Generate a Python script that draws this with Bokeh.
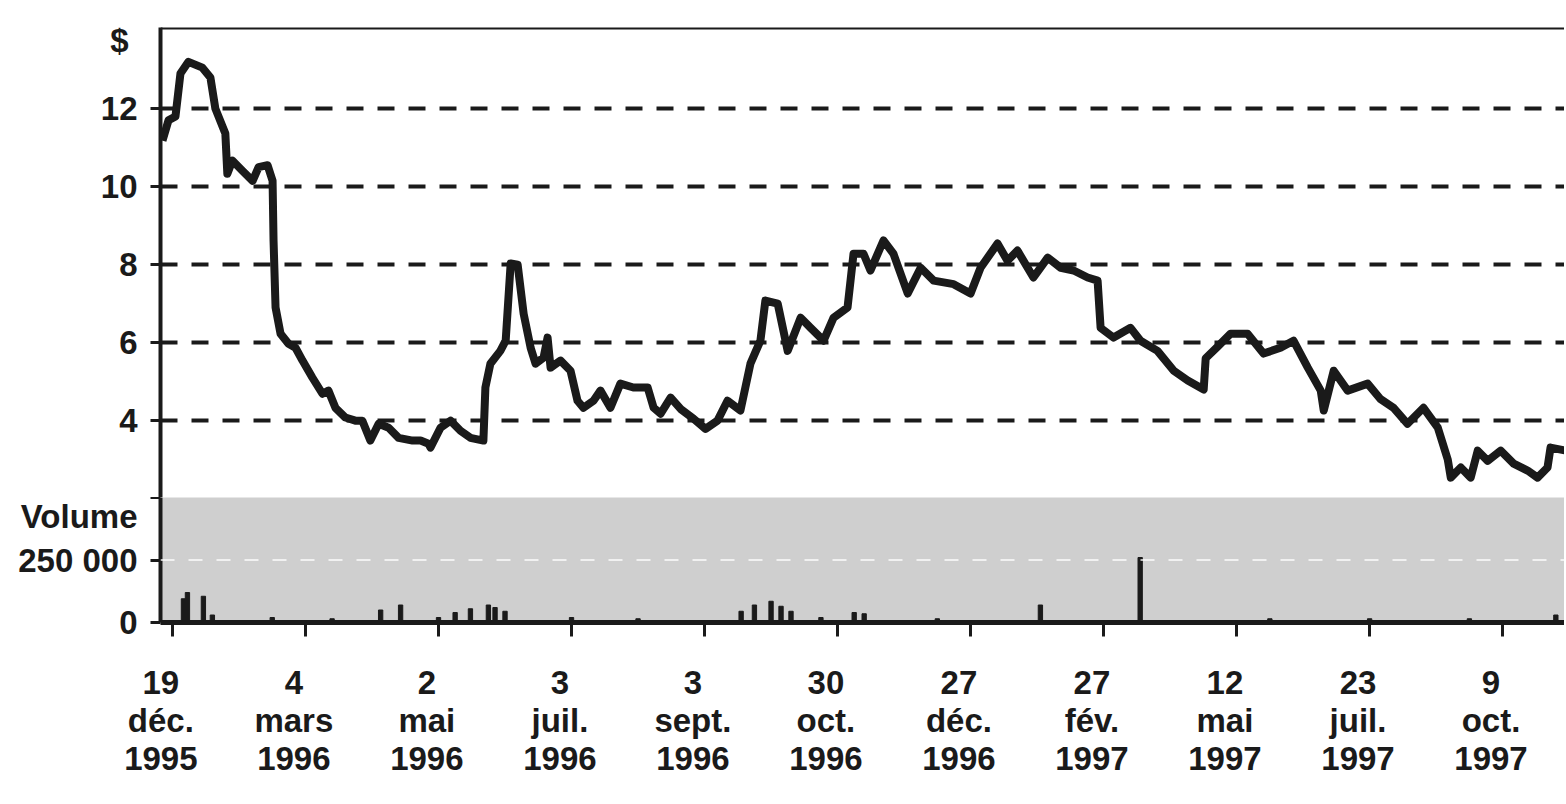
from bokeh.plotting import figure
from bokeh.layouts import column
from bokeh.models import Range1d, FixedTicker, Span, LinearAxis
from bokeh.embed import file_html
from bokeh.resources import INLINE

# ---- data (trading-session index, price in $) ----
session = [-3.0, -1.2, 0.9, 2.4, 4.8, 9.0, 11.4, 12.9, 15.9, 16.5, 18.0, 21.1, 24.1, 25.9,
           28.6, 30.1, 30.4, 31.0, 32.5, 34.9, 37.0, 39.1, 42.1, 45.1, 46.9, 49.0, 52.0,
           55.0, 57.1, 59.5, 62.0, 65.0, 68.0, 72.2, 74.6, 77.0, 77.6, 80.6, 83.6, 86.6,
           89.6, 93.5, 94.1, 95.6, 98.6, 100.2, 101.7, 103.8, 105.6, 107.7, 109.2, 111.6,
           112.8, 113.7, 116.7, 119.7, 121.8, 123.6, 126.6, 128.7, 131.7, 134.7, 138.6,
           142.9, 144.7, 146.8, 149.8, 152.8, 156.7, 160.3, 163.9, 166.9, 170.8, 173.8,
           176.8, 178.3, 182.0, 185.0, 188.9, 191.9, 195.8, 198.8, 203.0, 204.8, 207.8,
           209.9, 213.8, 216.8, 221.1, 225.0, 228.9, 234.9, 240.0, 243.0, 248.1, 251.1,
           254.1, 258.9, 263.2, 267.1, 271.0, 275.2, 278.2, 279.1, 283.0, 288.1, 291.1,
           296.2, 301.1, 305.3, 310.1, 310.7, 314.3, 318.2, 323.3, 328.1, 333.2, 337.1,
           341.4, 345.3, 346.2, 349.2, 353.4, 359.4, 363.3, 367.2, 371.4, 376.2, 380.5,
           383.5, 384.4, 387.4, 390.4, 392.5, 395.5, 399.4, 403.3, 407.5, 410.5, 413.5,
           414.4, 419.2]
price = [11.18, 11.7, 11.8, 12.9, 13.2, 13.05, 12.8, 12.0, 11.36, 10.33, 10.67, 10.4, 10.15, 10.5,
         10.55, 10.15, 8.6, 6.9, 6.23, 5.97, 5.87, 5.54, 5.1, 4.69, 4.77, 4.33, 4.08,
         4.0, 4.0, 3.49, 3.92, 3.82, 3.56, 3.49, 3.49, 3.41, 3.31, 3.82, 4.0, 3.74,
         3.56, 3.49, 4.85, 5.46, 5.79, 6.05, 8.03, 8.0, 6.74, 5.87, 5.46, 5.62,
         6.13, 5.36, 5.54, 5.28, 4.51, 4.33, 4.51, 4.77, 4.33, 4.95, 4.85,
         4.85, 4.33, 4.18, 4.59, 4.3, 4.05, 3.79, 4.0, 4.51, 4.26, 5.46,
         6.05, 7.08, 7.0, 5.79, 6.64, 6.38, 6.05, 6.64, 6.9, 8.28, 8.28,
         7.85, 8.62, 8.28, 7.26, 7.92, 7.59, 7.5, 7.26, 7.92, 8.54, 8.1,
         8.36, 7.67, 8.18, 7.92, 7.85, 7.67, 7.59, 6.38, 6.13, 6.38, 6.05,
         5.79, 5.28, 5.03, 4.8, 5.6, 5.9, 6.23, 6.23, 5.72, 5.87, 6.05,
         5.36, 4.77, 4.26, 5.28, 4.77, 4.95, 4.55, 4.33, 3.92, 4.33, 3.82,
         3.0, 2.54, 2.8, 2.54, 3.23, 2.97, 3.23, 2.9, 2.72, 2.54, 2.8,
         3.31, 3.23]

vol_session = [3.3, 4.5, 9.3, 12, 30, 48, 62.6, 68.6, 80, 85, 89.6, 95, 97, 100, 120, 140,
               171, 175, 180, 183, 186, 195, 205, 208, 230, 261, 291, 330, 360, 390, 416]
volume = [95000, 120000, 105000, 30000, 20000, 15000, 50000, 70000, 20000, 40000, 55000,
          70000, 60000, 45000, 20000, 15000, 45000, 70000, 85000, 65000, 45000, 20000,
          40000, 35000, 15000, 70000, 260000, 15000, 15000, 15000, 30000]

tick_sessions = [0, 40, 80, 120, 160, 200, 240, 280, 320, 360, 400]
tick_labels = ["19\ndéc.\n1995", "4\nmars\n1996", "2\nmai\n1996", "3\njuil.\n1996",
               "3\nsept.\n1996", "30\noct.\n1996", "27\ndéc.\n1996", "27\nfév.\n1997",
               "12\nmai\n1997", "23\njuil.\n1997", "9\noct.\n1997"]
price_ticks = [4, 6, 8, 10, 12]
unit_tick = [13.75]
unit_label = ["$"]
vol_ticks = [0, 250000, 500000]
vol_tick_labels = ["0", "250 000", "Volume"]

FONT = "Liberation Sans"
FSIZE = "33px"
INK = "#1a1a1a"
W = 1564
LEFT = 160
X0, X1 = -3.6, 418.6
LABEL_SHIFT = -3.5   # date-label blocks sit a little left of their tick (session units)

xr = Range1d(X0, X1)


def style_axis(ax):
    ax.axis_line_width = 4
    ax.axis_line_color = INK
    ax.major_tick_line_width = 3
    ax.major_tick_line_color = INK
    ax.major_tick_out = 10
    ax.major_tick_in = 0
    ax.minor_tick_line_color = None
    ax.major_label_standoff = 13
    ax.major_label_text_font = FONT
    ax.major_label_text_font_style = "bold"
    ax.major_label_text_font_size = FSIZE
    ax.major_label_text_color = INK


# ---- price panel ----
p = figure(width=W, height=497, x_range=xr, y_range=Range1d(2.03, 14.08),
           output_backend="svg", toolbar_location=None, x_axis_location=None,
           min_border_left=LEFT, min_border_right=0, min_border_top=27, min_border_bottom=0)
p.outline_line_color = None
p.background_fill_color = "white"
p.border_fill_color = "white"
p.xgrid.grid_line_color = None
ya = p.yaxis[0]
ya.ticker = FixedTicker(ticks=price_ticks)
style_axis(ya)
p.ygrid.grid_line_color = INK
p.ygrid.grid_line_width = 4
p.ygrid.grid_line_dash = "17 14"

# unit label "$" as a tick-less secondary axis
ua = LinearAxis(ticker=FixedTicker(ticks=unit_tick),
                major_label_overrides=dict(zip(unit_tick, unit_label)))
style_axis(ua)
ua.axis_line_color = None
ua.major_tick_line_color = None
ua.major_label_standoff = -41
p.add_layout(ua, "left")

p.add_layout(Span(location=14.08, dimension="width", line_color=INK, line_width=4))
p.line(session, price, line_width=8, line_color=INK, line_join="round")

# ---- volume panel ----
v = figure(width=W, height=300, x_range=xr, y_range=Range1d(0, 500000),
           output_backend="svg", toolbar_location=None,
           min_border_left=LEFT, min_border_right=0, min_border_top=0, min_border_bottom=175)
v.outline_line_color = None
v.background_fill_color = "#cfcfcf"
v.border_fill_color = "white"
v.grid.grid_line_color = None
vy = v.yaxis[0]
vy.ticker = FixedTicker(ticks=vol_ticks)
vy.major_label_overrides = dict(zip(vol_ticks, vol_tick_labels))
style_axis(vy)

vx = v.xaxis[0]
vx.ticker = FixedTicker(ticks=tick_sessions)
vx.axis_line_width = 5
vx.axis_line_color = INK
vx.major_tick_line_width = 3
vx.major_tick_line_color = INK
vx.major_tick_out = 14
vx.major_tick_in = 0
vx.minor_tick_line_color = None
vx.major_label_text_color = None
vx.major_label_text_font_size = "1px"
vx.major_label_standoff = 0

# date labels: a line-less, tick-less axis under the tick axis
label_pos = [t + LABEL_SHIFT for t in tick_sessions]
la = LinearAxis(ticker=FixedTicker(ticks=label_pos),
                major_label_overrides=dict(zip(label_pos, tick_labels)))
style_axis(la)
la.axis_line_color = None
la.major_tick_line_color = None
la.major_tick_out = 0
la.major_label_standoff = 27
la.major_label_text_line_height = 1.03
v.add_layout(la, "below")

v.add_layout(Span(location=250000, dimension="width", line_color="white",
                  line_width=2, line_alpha=0.7, line_dash="14 14"))
v.vbar(x=vol_session, top=volume, bottom=0, width=1.3, color=INK)

layout = column(p, v, spacing=0)
open("out.html", "w").write(file_html(layout, INLINE))
